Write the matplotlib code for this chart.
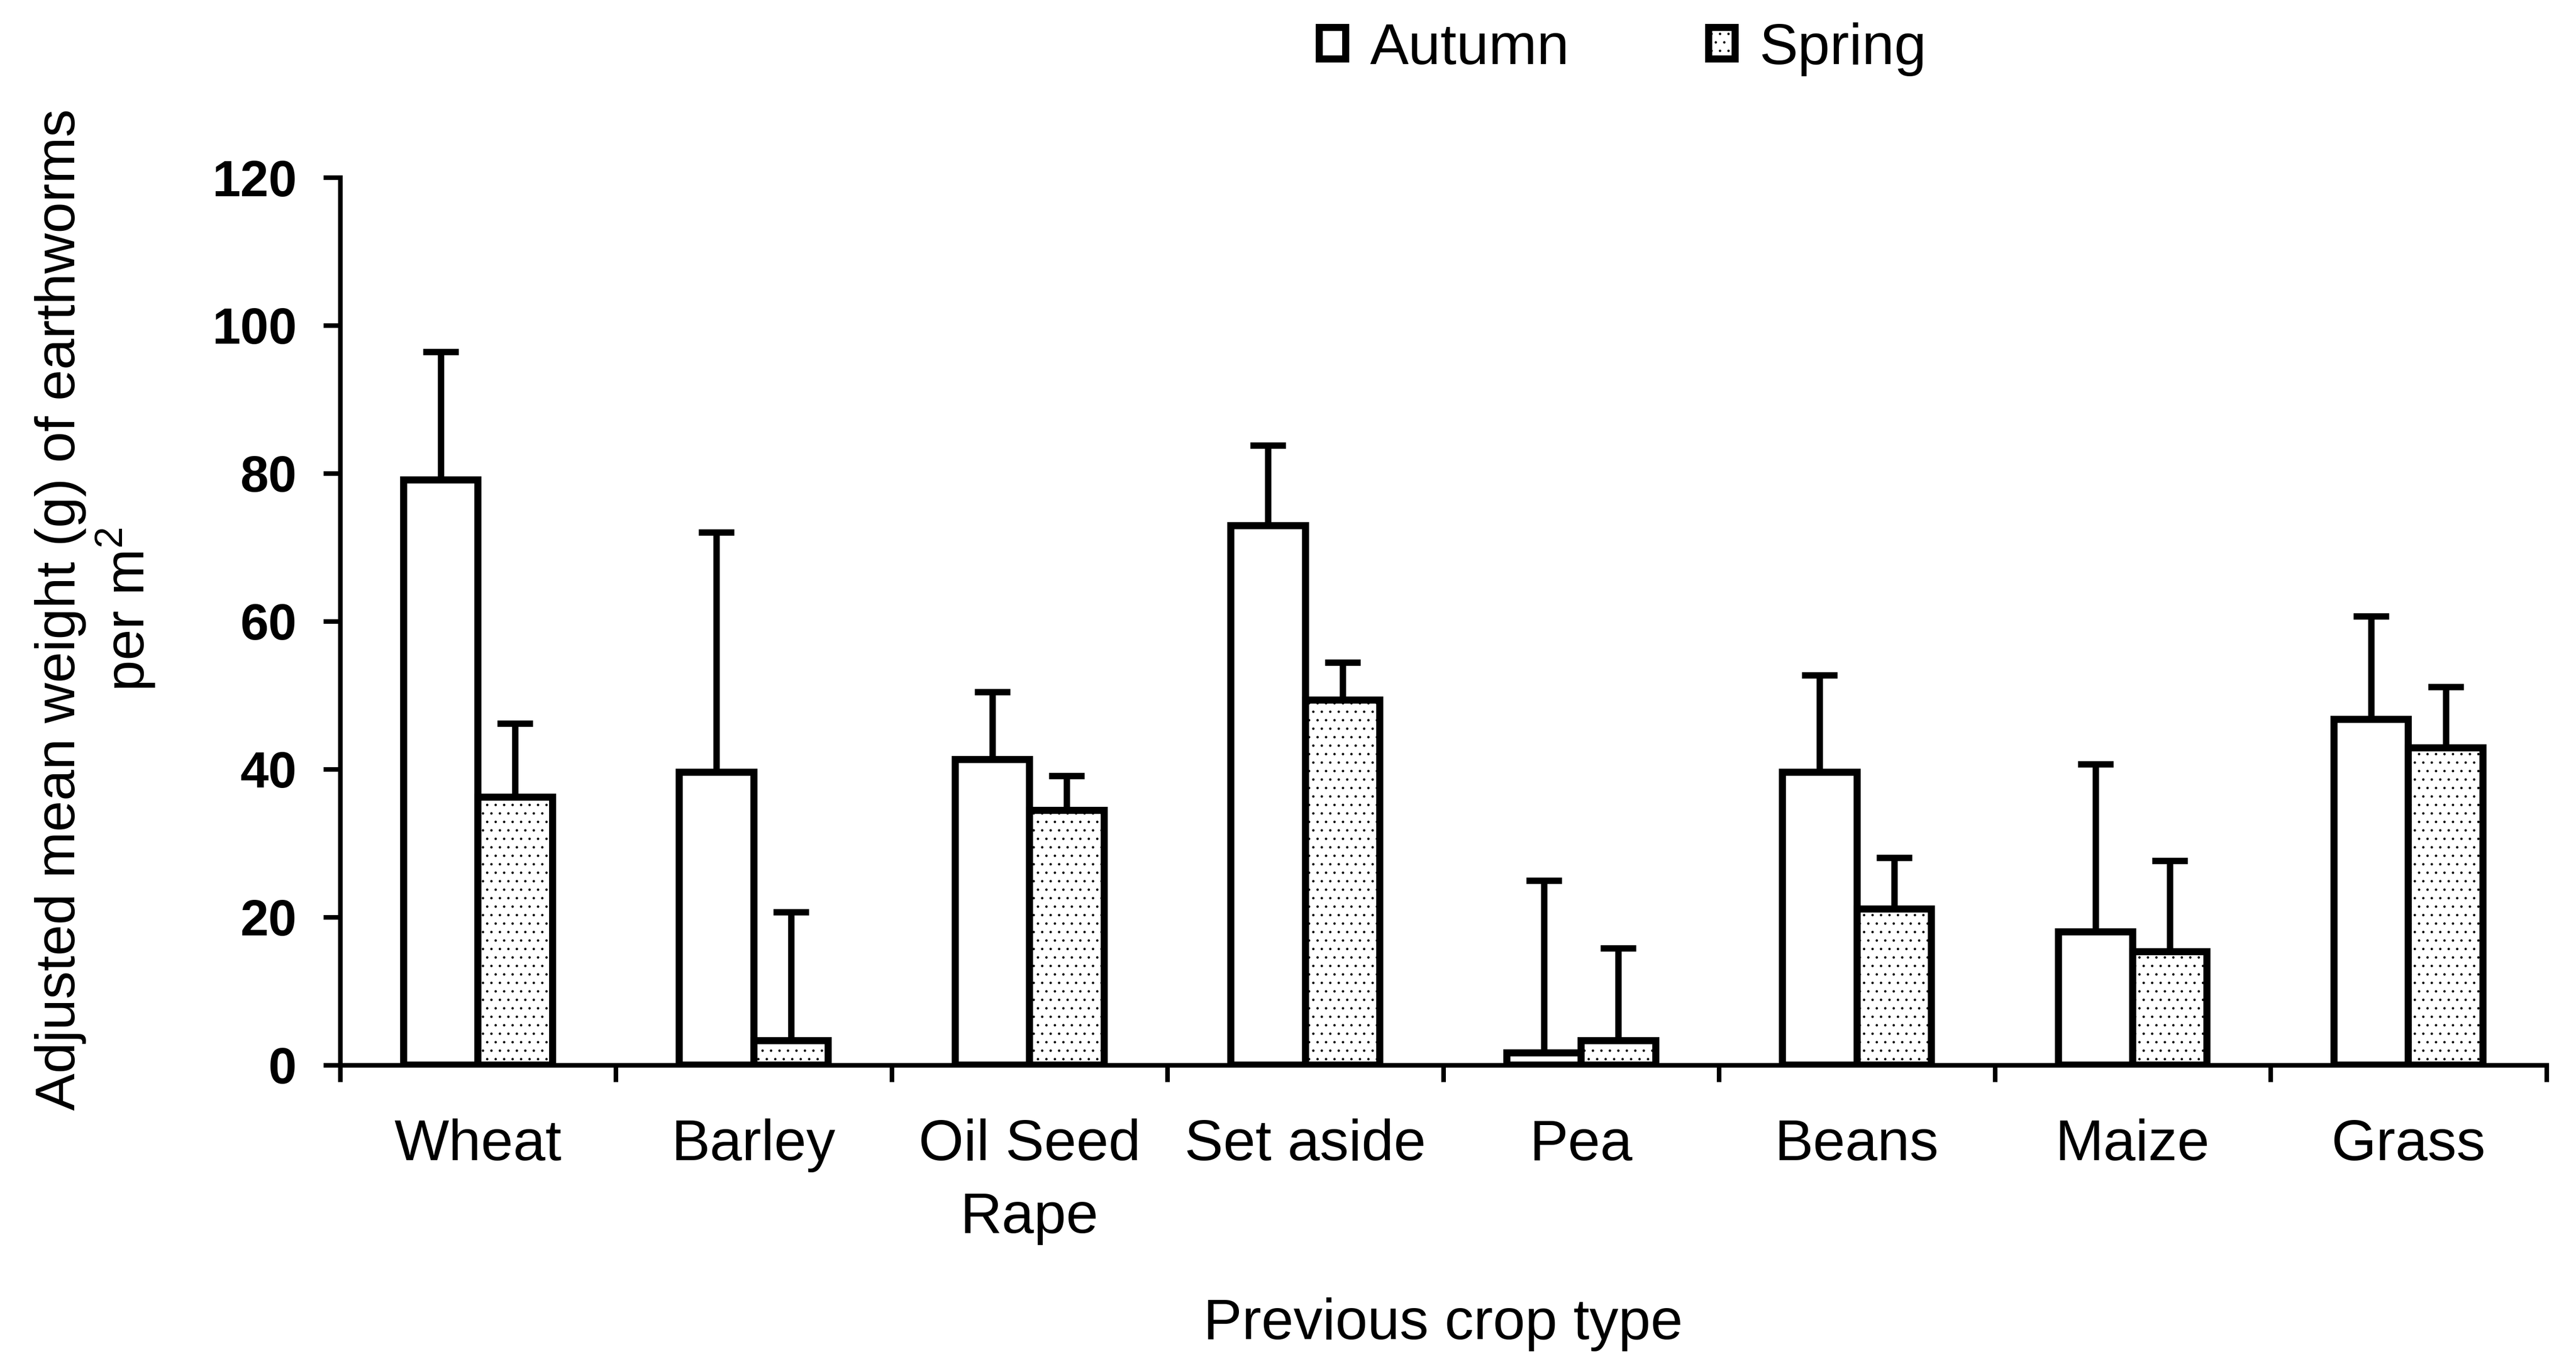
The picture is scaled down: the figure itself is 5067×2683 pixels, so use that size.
import numpy as np
import matplotlib
matplotlib.use("Agg")
import matplotlib.pyplot as plt

crops = ["Wheat", "Barley", "Oil Seed\nRape", "Set aside", "Pea", "Beans", "Maize", "Grass"]
autumn = [79.1, 39.6, 41.3, 72.9, 1.6, 39.6, 18.0, 46.7]
autumn_err = [17.3, 32.4, 9.1, 10.9, 23.3, 13.1, 22.7, 14.0]
spring = [36.2, 3.3, 34.4, 49.3, 3.3, 21.1, 15.3, 42.9]
spring_err = [10.0, 17.4, 4.7, 5.1, 12.5, 6.9, 12.3, 8.2]
yticks = [0, 20, 40, 60, 80, 100, 120]

plt.rcParams['font.family'] = ['Liberation Sans', 'DejaVu Sans']
plt.rcParams['mathtext.fontset'] = 'custom'
plt.rcParams['mathtext.rm'] = 'Liberation Sans'
plt.rcParams['hatch.linewidth'] = 1.0

fig = plt.figure(figsize=(50.67, 26.83), dpi=100)
ax = fig.add_axes([0.132, 0.2193, 0.8565, 0.6506])

x = np.arange(len(crops))
w = 0.27
lw = 10

ax.bar(x - w / 2, autumn, w, color='white', edgecolor='black', linewidth=lw,
       label='Autumn', zorder=3)
ax.bar(x + w / 2, spring, w, color='white', edgecolor='black', linewidth=lw,
       hatch='.', label='Spring', zorder=3)

# upper error bars only
zeros = np.zeros(len(crops))
ax.errorbar(x - w / 2, autumn, yerr=[zeros, autumn_err], fmt='none', ecolor='black',
            elinewidth=9, capsize=25, capthick=9, zorder=2)
ax.errorbar(x + w / 2, spring, yerr=[zeros, spring_err], fmt='none', ecolor='black',
            elinewidth=9, capsize=25, capthick=9, zorder=2)

ax.set_xlim(-0.5, len(crops) - 0.5)
ax.set_ylim(0, 120)

for s in ['top', 'right']:
    ax.spines[s].set_visible(False)
for s in ['left', 'bottom']:
    ax.spines[s].set_linewidth(6.5)

ax.set_xticks(x)
ax.set_xticklabels(crops, fontsize=82, linespacing=1.45)
ax.set_xticks(np.arange(len(crops) + 1) - 0.5, minor=True)
ax.tick_params(axis='x', which='major', length=0, pad=76)
ax.tick_params(axis='x', which='minor', length=24, width=6.5, direction='out')

ax.set_yticks(yticks)
ax.set_yticklabels([str(t) for t in yticks], fontsize=72, fontweight='bold')
ax.tick_params(axis='y', length=24, width=6.5, direction='out', pad=37)

ax.set_ylabel("Adjusted mean weight (g) of earthworms\nper m$^2$", fontsize=79,
              linespacing=1.15)
ax.yaxis.set_label_coords(-0.083, 0.513)
ax.set_xlabel("Previous crop type", fontsize=82)
ax.xaxis.set_label_coords(0.5, -0.262)

fig.legend(loc='center', bbox_to_anchor=(0.63, 0.964), ncol=2, frameon=False,
           fontsize=82, handlelength=0.46, handleheight=0.46, handletextpad=0.42,
           columnspacing=2.4)

fig.savefig("out.png", dpi=100)
